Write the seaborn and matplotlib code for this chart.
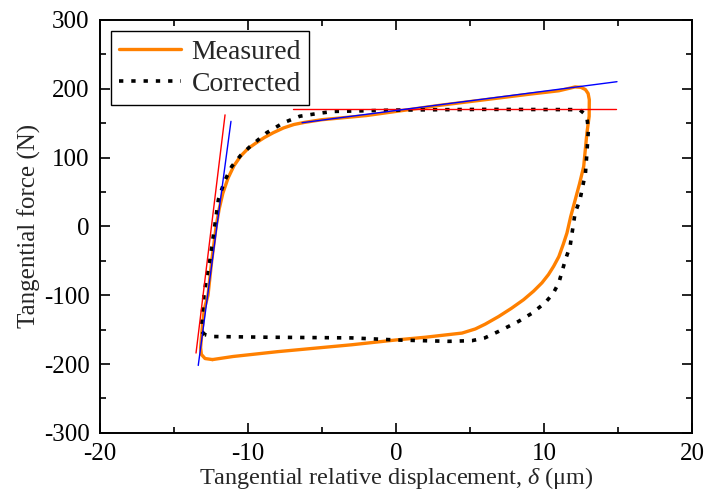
import matplotlib
matplotlib.use("Agg")
import matplotlib.pyplot as plt
import seaborn as sns
import pandas as pd
from matplotlib.ticker import MultipleLocator

# measured loop (um, N) traced in loading order
meas_x = [-12.4, -12.9, -13.15, -13.2, -13.1, -12.95, -12.7, -12.45, -12.15, -11.95,
          -11.7, -11.35, -10.95, -10.5, -10.0, -9.4, -8.9, -8.3, -7.6,
          -6.9, -6.2, -5.0, -2.0, 0.0, 3.0, 6.0, 9.0, 11.0, 12.1, 12.5,
          12.8, 12.98, 13.06, 13.05, 12.9, 12.68, 12.4, 12.11, 11.8, 11.55, 11.3,
          11.0, 10.65, 10.3, 9.86, 9.3, 8.62, 7.8, 6.93, 6.03, 5.36, 4.46, 2.0,
          0.0, -3.0, -8.0, -11.0, -12.4]
meas_y = [-193.5, -192, -186, -176, -150, -120, -100, -50, 0, 25,
          48, 70, 88, 102, 113, 122, 129, 136, 143,
          148, 151, 155, 161, 167, 176, 184, 192, 197, 202.6, 202,
          198.7, 193, 184, 160, 136, 87, 62, 38.8, 14, -9.6, -26,
          -44, -58, -70, -82, -94, -106.5, -119, -131, -142, -149, -155, -161,
          -165, -172, -182, -189, -193.5]

corr_x = [-12.9, -13.13, -13.1, -12.97, -12.8, -12.57, -12.25, -12.0, -11.6, -11.1,
          -10.5, -9.86, -8.74, -7.6, -6.5, -5.3, -4.25, -2.0, 0.0, 6.0, 12.4, 12.67,
          12.9, 13.0, 12.95, 12.9, 12.8, 12.43, 12.1, 11.76, 11.45, 11.0, 10.6,
          10.07, 9.2, 8.28, 6.93, 6.0, 5.14, 3.55, 0.0, -3.0, -8.74, -12.36, -12.9]
corr_y = [-157.4, -152.6, -130, -100, -75, -48.4, 0, 38.8, 65, 87,
          103, 116, 136, 150.6, 160, 164, 167, 168, 169, 170, 169.6, 164.8,
          157.6, 140.6, 125, 107, 77.6, 38.8, 19.5, -29, -48, -82, -98,
          -111, -126, -138, -152.6, -162, -166, -167, -165, -162, -161, -160, -157.4]

# fitted stiffness / slip lines
red_steep = ([-13.51, -11.55], [-184, 162])
red_flat = ([-6.96, 14.86], [170, 170])
blue_steep = ([-13.36, -11.15], [-202, 152.6])
blue_slope = ([-6.35, 14.93], [150.6, 210.2])

sns.set_style("ticks")
plt.rcParams["font.family"] = ["Liberation Serif", "DejaVu Serif"]
plt.rcParams["mathtext.fontset"] = "custom"
plt.rcParams["mathtext.rm"] = "Liberation Serif"
plt.rcParams["mathtext.it"] = "Liberation Serif:italic"
plt.rcParams["axes.unicode_minus"] = False

fig = plt.figure(figsize=(7.04, 4.97), dpi=100)
ax = fig.add_axes([0.142, 0.129, 0.841, 0.831])

meas = pd.DataFrame({"x": meas_x, "y": meas_y})
corr = pd.DataFrame({"x": corr_x, "y": corr_y})

sns.lineplot(data=meas, x="x", y="y", sort=False, estimator=None, ax=ax,
             color="#ff8000", lw=2.4, label="Measured")
sns.lineplot(data=corr, x="x", y="y", sort=False, estimator=None, ax=ax,
             color="black", lw=2.6, linestyle=(0, (1.2, 2.2)), label="Corrected")

for (lx, ly), c in [(red_steep, "red"), (red_flat, "red"),
                    (blue_steep, "blue"), (blue_slope, "blue")]:
    sns.lineplot(x=lx, y=ly, ax=ax, color=c, lw=1.0, estimator=None, sort=False)

ax.set_xlim(-20, 20)
ax.set_ylim(-300, 300)
ax.xaxis.set_major_locator(MultipleLocator(10))
ax.xaxis.set_minor_locator(MultipleLocator(5))
ax.yaxis.set_major_locator(MultipleLocator(100))
ax.yaxis.set_minor_locator(MultipleLocator(50))
ax.tick_params(which="both", direction="in", top=True, right=True,
               labelsize=18, width=1.2, colors="black", pad=7.5)
ax.tick_params(which="major", length=7)
ax.tick_params(which="minor", length=4)
for s in ax.spines.values():
    s.set_linewidth(1.4)
    s.set_color("black")

ax.set_xlabel(r"Tangential relative displacement, $\delta$ ($\mathrm{\mu}$m)", fontsize=17.5)
ax.set_ylabel("Tangential force (N)", fontsize=18)
ax.xaxis.set_label_coords(0.5, -0.078)
ax.yaxis.set_label_coords(-0.10, 0.5)

h, l = ax.get_legend_handles_labels()
leg = ax.legend(h[:2], l[:2], loc="upper left", fontsize=20, frameon=True,
                fancybox=False, edgecolor="black", framealpha=1,
                handlelength=2.2, borderpad=0.3, labelspacing=0.25,
                handletextpad=0.4, borderaxespad=0.4)
leg.get_frame().set_linewidth(1.0)

fig.savefig("out.png", dpi=100)
